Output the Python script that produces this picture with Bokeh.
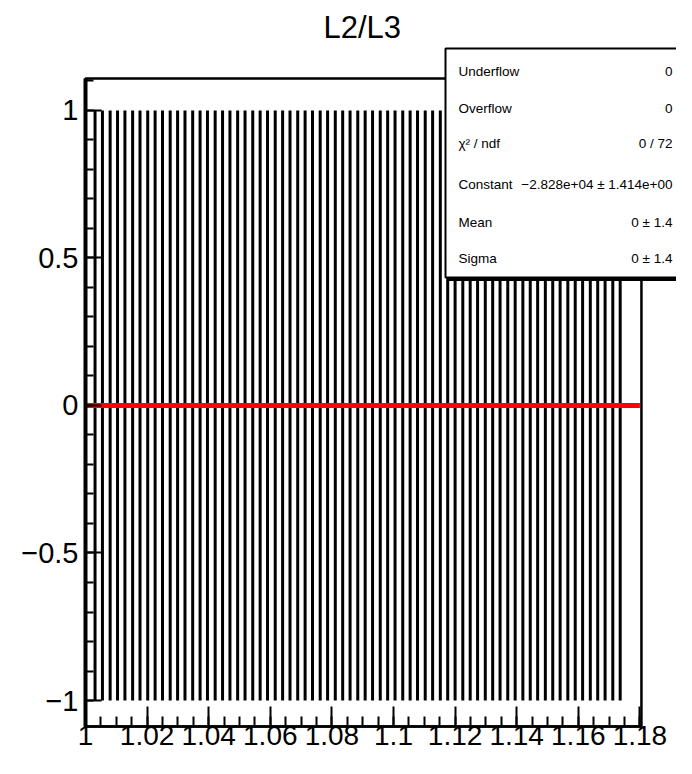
from bokeh.plotting import figure
from bokeh.models import FixedTicker, BoxAnnotation, Label, ColumnDataSource
from bokeh.embed import file_html
from bokeh.resources import INLINE

# ---- data ----
bin_centers = [
    1.0031, 1.0055, 1.0080, 1.0104, 1.0128, 1.0153, 1.0177, 1.0202, 1.0226, 1.0250,
    1.0275, 1.0299, 1.0323, 1.0348, 1.0372, 1.0396, 1.0421, 1.0445, 1.0469, 1.0494,
    1.0518, 1.0543, 1.0567, 1.0591, 1.0616, 1.0640, 1.0664, 1.0689, 1.0713, 1.0737,
    1.0762, 1.0786, 1.0811, 1.0835, 1.0859, 1.0884, 1.0908, 1.0932, 1.0957, 1.0981,
    1.1005, 1.1030, 1.1054, 1.1078, 1.1103, 1.1127, 1.1152, 1.1176, 1.1200, 1.1225,
    1.1249, 1.1273, 1.1298, 1.1322, 1.1346, 1.1371, 1.1395, 1.1420, 1.1444, 1.1468,
    1.1493, 1.1517, 1.1541, 1.1566, 1.1590, 1.1614, 1.1639, 1.1663, 1.1687, 1.1712,
    1.1736,
]
bin_contents = [0.0] * len(bin_centers)
bin_errors = [1.0] * len(bin_centers)

fit_x = [1.0, 1.18]
fit_y = [0.0, 0.0]

hist_x_min, hist_x_max = 1.0, 1.1805      # drawn frame of the histogram
hist_y_min, hist_y_max = -1.088, 1.1085

x_ticks = [1.00, 1.02, 1.04, 1.06, 1.08, 1.10, 1.12, 1.14, 1.16, 1.18]
x_tick_labels = ["1", "1.02", "1.04", "1.06", "1.08", "1.1", "1.12", "1.14", "1.16", "1.18"]
y_ticks = [-1.0, -0.5, 0.0, 0.5, 1.0]
y_tick_labels = ["\u22121", "\u22120.5", "0", "0.5", "1"]

stats_names = ["Underflow", "Overflow", "\u03c7\u00b2 / ndf", "Constant", "Mean", "Sigma"]
stats_values = ["0", "0", "0 / 72", "\u22122.828e+04 \u00b1 1.414e+00", "0 \u00b1 1.4", "0 \u00b1 1.4"]

FONT = "Liberation Sans"

p = figure(width=676, height=758, output_backend="svg", toolbar_location=None,
           x_range=(0.972403, 1.191883), y_range=(-1.1966, 1.2237),
           min_border_left=0, min_border_right=0, min_border_top=44, min_border_bottom=0)

p.title.text = "L2/L3"
p.title.align = "left"
p.title.offset = 323
p.title.text_font = FONT
p.title.text_font_size = "31px"
p.title.text_font_style = "normal"
p.title.text_color = "black"
p.title.standoff = 0

p.grid.visible = False
p.outline_line_color = None
p.background_fill_color = "white"
p.border_fill_color = "white"

xa = p.xaxis[0]
xa.fixed_location = hist_y_min
xa.bounds = (hist_x_min, hist_x_max)
xa.ticker = FixedTicker(ticks=x_ticks,
                        minor_ticks=[round(1.0 + 0.005 * i, 3) for i in range(37)])
xa.major_label_overrides = {t: l for t, l in zip(x_ticks, x_tick_labels)}
xa.major_tick_in = 20
xa.major_tick_out = 0
xa.minor_tick_in = 10
xa.minor_tick_out = 0
xa.major_tick_line_width = 2
xa.minor_tick_line_width = 2
xa.axis_line_width = 2.5
xa.major_label_text_font = FONT
xa.major_label_text_font_size = "28px"
xa.major_label_text_color = "black"
xa.major_label_standoff = 0

ya = p.yaxis[0]
ya.fixed_location = hist_x_min
ya.bounds = (hist_y_min, hist_y_max)
ya.ticker = FixedTicker(ticks=y_ticks,
                        minor_ticks=[round(-1.0 + 0.1 * i, 2) for i in range(22)])
ya.major_label_overrides = {t: l for t, l in zip(y_ticks, y_tick_labels)}
ya.major_tick_in = 16
ya.major_tick_out = 0
ya.minor_tick_in = 8
ya.minor_tick_out = 0
ya.major_tick_line_width = 2
ya.minor_tick_line_width = 2
ya.axis_line_width = 4
ya.major_label_text_font = FONT
ya.major_label_text_font_size = "29px"
ya.major_label_text_color = "black"
ya.major_label_standoff = 7

# histogram frame (top/right edges)
p.add_layout(BoxAnnotation(left=hist_x_min, right=hist_x_max, bottom=hist_y_min,
                           top=hist_y_max, fill_alpha=0, line_color="black",
                           line_width=2.5, line_alpha=1.0, level="underlay"))

src = ColumnDataSource(dict(
    x=bin_centers,
    lo=[c - e for c, e in zip(bin_contents, bin_errors)],
    hi=[c + e for c, e in zip(bin_contents, bin_errors)],
))
p.segment(x0="x", y0="lo", x1="x", y1="hi", source=src, line_color="black",
          line_width=3)

p.line(fit_x, fit_y, line_color="#ff0000", line_width=5)

# stats box (screen units relative to the plot frame)
shadow = BoxAnnotation(left=448, right=725, top=707, bottom=478,
                       left_units="screen", right_units="screen",
                       top_units="screen", bottom_units="screen",
                       fill_color="black", fill_alpha=1.0, line_color="black",
                       line_alpha=1.0, level="overlay")
box = BoxAnnotation(left=445, right=722, top=710, bottom=481,
                    left_units="screen", right_units="screen",
                    top_units="screen", bottom_units="screen",
                    fill_color="white", fill_alpha=1.0, line_color="black",
                    line_width=2, line_alpha=1.0, level="overlay")
p.add_layout(shadow)
p.add_layout(box)

row_y = [687, 650, 615, 574, 536, 500]
for name, val, yy in zip(stats_names, stats_values, row_y):
    p.add_layout(Label(x=458, y=yy, x_units="screen", y_units="screen", text=name,
                       text_font=FONT, text_font_size="13.5px", text_color="black",
                       text_baseline="middle", text_align="left", level="overlay"))
    p.add_layout(Label(x=672, y=yy, x_units="screen", y_units="screen", text=val,
                       text_font=FONT, text_font_size="13.5px", text_color="black",
                       text_baseline="middle", text_align="right", level="overlay"))

open("out.html", "w").write(file_html(p, INLINE))
